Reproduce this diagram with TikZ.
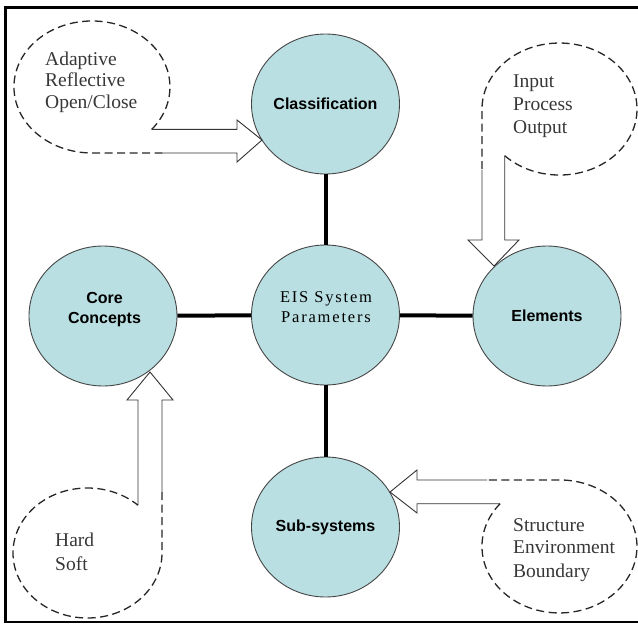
\documentclass[tikz,border=0pt]{standalone}
\usepackage{fontspec}
\setmainfont{Liberation Serif}
\newfontfamily\labelfont{Liberation Sans}
\newfontfamily\notefont{Liberation Serif}
\newfontfamily\hubfont[LetterSpace=11]{Liberation Serif}
\usetikzlibrary{shapes.geometric}
\definecolor{hubfill}{RGB}{185,223,226}
\definecolor{rim}{RGB}{70,70,70}
\definecolor{notegray}{RGB}{55,55,55}

\begin{document}
\begin{tikzpicture}[x=1pt,y=-1pt,
  param/.style={ellipse, draw=rim, line width=0.9pt, fill=hubfill,
    minimum width=148pt, minimum height=140pt, inner sep=0pt,
    font=\labelfont\bfseries\fontsize{16}{20}\selectfont},
  paramtext/.style={anchor=base, inner sep=0pt,
    font=\labelfont\bfseries\fontsize{16}{20}\selectfont},
  hubtext/.style={anchor=base, inner sep=0pt,
    font=\hubfont\fontsize{16.5}{20}\selectfont},
  link/.style={line width=4pt},
  bubble/.style={draw=black!85, line width=1.3pt, dash pattern=on 8pt off 4.5pt},
  blockarrow/.style={draw=black!80, line width=0.9pt, line join=miter},
  note/.style={anchor=base west, inner sep=0pt, text=notegray,
    font=\notefont\fontsize{19.5}{23}\selectfont},
]
\useasboundingbox (0,0) rectangle (638,624);

% outer frame
\draw[line width=3pt] (4,7.5) -- (638,7.5);
\draw[line width=3pt] (5.5,6) -- (5.5,623);
\draw[line width=1.5pt] (4,621.8) -- (638,621.8);

% parameter discs
\node[param] (cls)  at (325.5,104) {Classification};
\node[param] (eis)  at (325.5,315) {};
\node[param] (core) at (103,316)   {};
\node[param] (elem) at (547,316)   {Elements};
\node[param] (sub)  at (325.5,527) {Sub-systems};

\node[paramtext] (coreA) at (104.5,303) {Core};
\node[paramtext] (coreB) at (104.5,323) {Concepts};
\node[hubtext] (eisA) at (326,302) {EIS System};
\node[hubtext] (eisB) at (326,322) {Parameters};

% spokes
\draw[link] (cls) -- (eis);
\draw[link] (core) -- (eis);
\draw[link] (eis) -- (elem);
\draw[link] (eis) -- (sub);

% callout: classification
\draw[bubble] (151.7,129.4) arc[start angle=40, end angle=-270, x radius=78, y radius=66] -- (163,153);
\draw[blockarrow] (151.7,129.4) -- (237,129.4) -- (237,120) -- (262,140) -- (237,162) -- (237,153) -- (163,153);
\node[note] (nA1) at (45,65)    {Adaptive};
\node[note] (nA2) at (45,86.5)  {Reflective};
\node[note] (nA3) at (45,108)   {Open/Close};

% callout: elements
\draw[bubble] (504.7,155.7) arc[start angle=135, end angle=-180, x radius=77.5, y radius=66] -- (482,170);
\draw[blockarrow] (482,170) -- (482,240) -- (468,240) -- (494,266) -- (519,240) -- (504.7,240) -- (504.7,155.7);
\node[note] (nB1) at (513,87)  {Input};
\node[note] (nB2) at (513,110) {Process};
\node[note] (nB3) at (513,133) {Output};

% callout: core concepts
\draw[bubble] (162,492) -- (162,553) arc[start angle=0, end angle=312.7, x radius=74.5, y radius=65];
\draw[blockarrow] (138,505.2) -- (138,400) -- (127,400) -- (150,372) -- (173,400) -- (162,400) -- (162,492);
\node[note] (nC1) at (55,546) {Hard};
\node[note] (nC2) at (55,570) {Soft};

% callout: sub-systems
\draw[bubble] (500.1,503.7) arc[start angle=-140, end angle=-450, x radius=77.5, y radius=66.5] -- (487,480);
\draw[blockarrow] (487,480) -- (417,480) -- (417,470) -- (390,492) -- (417,513) -- (417,503.7) -- (500.1,503.7);
\node[note] (nD1) at (513,531) {Structure};
\node[note] (nD2) at (513,553.5) {Environment};
\node[note] (nD3) at (513,577) {Boundary};
\end{tikzpicture}
\end{document}
